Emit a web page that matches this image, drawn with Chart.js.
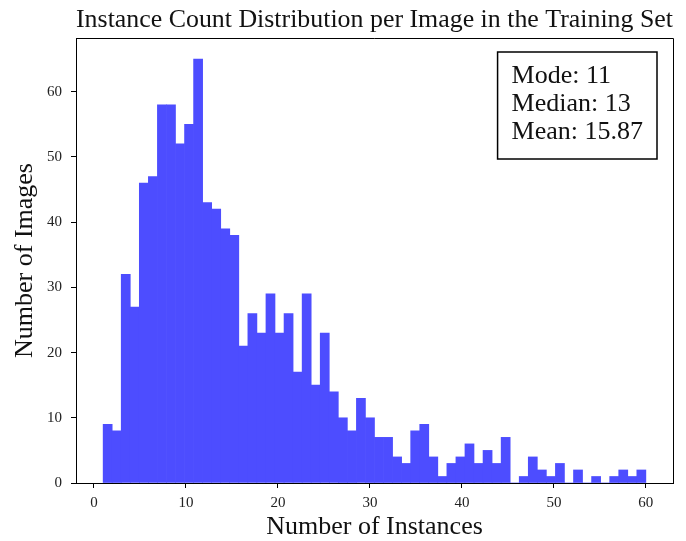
<!DOCTYPE html>
<html>
<head>
<meta charset="utf-8">
<script src="https://cdn.jsdelivr.net/npm/chart.js@4/dist/chart.umd.min.js"></script>
<style>
  html, body { margin: 0; padding: 0; background: #fff; }
  #wrap { width: 686px; height: 541px; }
</style>
</head>
<body>
<div id="wrap"><canvas id="histChart" width="686" height="541"></canvas></div>
<script>
// histogram: 60 bins between 1 and 60 instances
const binStart = 1;
const binEnd = 60;
const imageCounts = [
  9, 8, 32, 27, 46, 47, 58, 58, 52, 55,
  65, 43, 42, 39, 38, 21, 26, 23, 29, 23,
  26, 17, 29, 15, 23, 14, 10, 8, 13, 10,
  7, 7, 4, 3, 8, 9, 4, 1, 3, 4,
  6, 3, 5, 3, 7, 0, 1, 4, 2, 1,
  3, 0, 2, 0, 1, 0, 1, 2, 1, 2
];
const xTicks = [0, 10, 20, 30, 40, 50, 60];
const yTicks = [0, 10, 20, 30, 40, 50, 60];
const statLines = ['Mode: 11', 'Median: 13', 'Mean: 15.87'];

const binWidth = (binEnd - binStart) / imageCounts.length;
const points = imageCounts.map((c, i) => ({ x: binStart + binWidth * (i + 0.5), y: c }));

const serif = "'Liberation Serif', 'Times New Roman', serif";

// top/right spines + the stats box
const framePlugin = {
  id: 'frame',
  afterDraw(chart) {
    const { ctx, chartArea: a } = chart;
    ctx.save();
    ctx.strokeStyle = '#000';
    ctx.lineWidth = 1;
    ctx.beginPath();
    ctx.moveTo(a.left, a.top + 0.5);
    ctx.lineTo(a.right + 0.5, a.top + 0.5);
    ctx.lineTo(a.right + 0.5, a.bottom);
    ctx.stroke();

    ctx.font = '26px ' + serif;
    const w = Math.max(...statLines.map(s => ctx.measureText(s).width));
    const pad = 14, lineH = 28;
    const right = a.right - 16, top = a.top + 14;
    const boxW = w + pad * 2, boxH = 107;
    ctx.fillStyle = '#fff';
    ctx.fillRect(right - boxW, top, boxW, boxH);
    ctx.lineWidth = 1.5;
    ctx.strokeRect(right - boxW, top, boxW, boxH);
    ctx.fillStyle = '#111';
    ctx.textBaseline = 'alphabetic';
    statLines.forEach((s, i) => ctx.fillText(s, right - boxW + pad, top + 31 + i * lineH));
    ctx.restore();
  }
};

new Chart(document.getElementById('histChart'), {
  type: 'bar',
  data: {
    datasets: [{
      data: points,
      backgroundColor: '#4d4dff',
      borderWidth: 0,
      barPercentage: 1.0,
      categoryPercentage: 1.0
    }]
  },
  options: {
    responsive: false,
    animation: false,
    layout: { padding: { left: 0, right: 13, top: 0, bottom: 0 } },
    plugins: {
      legend: { display: false },
      tooltip: { enabled: false },
      title: {
        display: true,
        fullSize: false,
        text: 'Instance Count Distribution per Image in the Training Set',
        color: '#111',
        font: { family: serif, size: 26, weight: 'normal', lineHeight: 1.2 },
        padding: { top: 5, bottom: 1.8 }
      }
    },
    scales: {
      x: {
        type: 'linear',
        offset: false,
        min: -1.95,
        max: 62.95,
        afterBuildTicks: s => { s.ticks = xTicks.map(v => ({ value: v })); },
        afterFit: s => { s.height = 58; },
        grid: { offset: false, drawOnChartArea: false, drawTicks: true, tickLength: 5, color: '#000' },
        border: { display: true, color: '#000', width: 1 },
        ticks: { color: '#222', padding: 6, font: { family: serif, size: 15 }, maxRotation: 0 },
        title: {
          display: true,
          text: 'Number of Instances',
          color: '#111',
          font: { family: serif, size: 26, lineHeight: 1.2 },
          padding: { top: 0, bottom: -2 }
        }
      },
      y: {
        min: 0,
        max: 68.25,
        afterBuildTicks: s => { s.ticks = yTicks.map(v => ({ value: v })); },
        afterFit: s => { s.width = 76; },
        grid: { drawOnChartArea: false, drawTicks: true, tickLength: 5, color: '#000' },
        border: { display: true, color: '#000', width: 1 },
        ticks: { color: '#222', padding: 9, font: { family: serif, size: 15 } },
        title: {
          display: true,
          text: 'Number of Images',
          color: '#111',
          font: { family: serif, size: 26, lineHeight: 1.2 },
          padding: { top: 10, bottom: 0 }
        }
      }
    }
  },
  plugins: [framePlugin]
});
</script>
</body>
</html>
